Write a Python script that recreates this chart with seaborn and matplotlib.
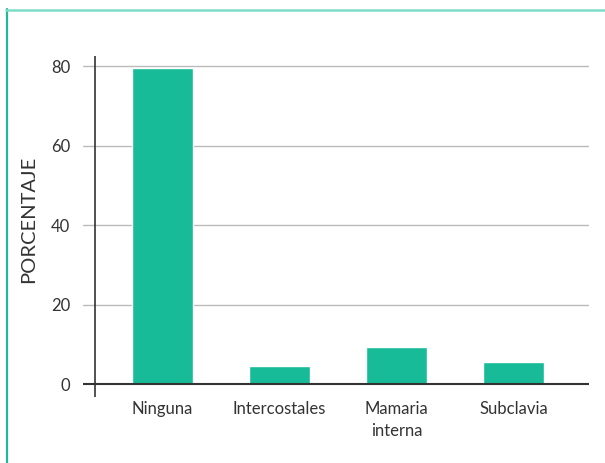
import matplotlib
matplotlib.use("Agg")
import matplotlib.pyplot as plt
import seaborn as sns
import pandas as pd
from matplotlib.lines import Line2D

categories = ["Ninguna", "Intercostales", "Mamaria\ninterna", "Subclavia"]
values = [79.7, 4.5, 9.3, 5.5]
yticks = [0, 20, 40, 60, 80]
ylabel = "PORCENTAJE"

df = pd.DataFrame({"cat": categories, "val": values})

sns.set_theme(style="white")
plt.rcParams["font.family"] = ["Lato", "DejaVu Sans"]

W, H = 605, 463
fig = plt.figure(figsize=(W / 100, H / 100), dpi=100)
ax = fig.add_axes([83 / W, 1 - 397 / H, (589 - 83) / W, (397 - 56) / H])

sns.barplot(data=df, x="cat", y="val", color="#17BB98", width=0.52,
            saturation=1, ax=ax, zorder=3)

ax.set_xlim(-0.679, 3.645)
ax.set_ylim(-3.27, 82.6)
for s in ax.spines.values():
    s.set_visible(False)

for t in yticks:
    if t == 0:
        ax.axhline(0, color="#333333", lw=1.5, zorder=4)
    else:
        ax.axhline(t, color="#bbbbbb", lw=1.0, zorder=1)
ax.axvline(-0.577, color="#333333", lw=1.2, zorder=4)

ax.set_yticks(yticks)
ax.set_yticklabels([str(t) for t in yticks], fontsize=12, color="#333333")
ax.tick_params(axis="y", length=0, pad=9)
ax.tick_params(axis="x", length=0, pad=3, labelsize=12, labelcolor="#333333")
for lbl in ax.get_xticklabels():
    lbl.set_linespacing(1.45)
ax.set_xlabel("")
ax.set_ylabel(ylabel, fontsize=14.5, color="#333333")
ax.yaxis.set_label_coords(-0.091, 0.52)

# decorative teal border
fig.add_artist(Line2D([7 / W, 7 / W], [0, 1 - 9 / H], color="#22B89A", lw=1.6,
                      transform=fig.transFigure))
fig.add_artist(Line2D([6 / W, 1], [1 - 9.5 / H, 1 - 9.5 / H], color="#7FDCC8",
                      lw=1.8, transform=fig.transFigure))

fig.savefig("out.png", dpi=100)
